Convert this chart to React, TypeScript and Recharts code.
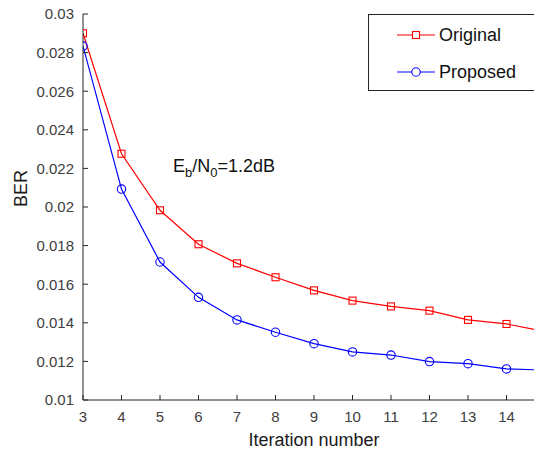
import React from 'react';
import { LineChart, Line, XAxis, YAxis, Legend, ReferenceDot } from 'recharts';

// iteration index on the x axis
const iterations = [3, 4, 5, 6, 7, 8, 9, 10, 11, 12, 13, 14, 15];
// BER
const originalBer = [0.029, 0.02276, 0.01983, 0.01807, 0.01708, 0.01636, 0.01568, 0.01515, 0.01485, 0.01463, 0.01415, 0.01394, 0.01355];
const proposedBer = [0.02834, 0.02093, 0.01715, 0.01532, 0.01415, 0.01351, 0.01292, 0.01249, 0.01233, 0.01199, 0.01188, 0.01161, 0.01155];

const xTicks = [3, 4, 5, 6, 7, 8, 9, 10, 11, 12, 13, 14];
const yTicks = [0.01, 0.012, 0.014, 0.016, 0.018, 0.02, 0.022, 0.024, 0.026, 0.028, 0.03];

const data = iterations.map((x, i) => ({ x, original: originalBer[i], proposed: proposedBer[i] }));

const FONT = '"Liberation Sans", Arial, Helvetica, sans-serif';
const AXIS = '#262626';
const RED = '#ff0000';
const BLUE = '#0000ff';

const SquareDot = (props: any) => {
  const { cx, cy, index } = props;
  if (cx == null || cy == null) return <g key={`sq-${index}`} />;
  return <rect key={`sq-${index}`} x={cx - 3.5} y={cy - 3.5} width={7} height={7} fill="none" stroke={RED} strokeWidth={1.1} />;
};

const CircleDot = (props: any) => {
  const { cx, cy, index } = props;
  if (cx == null || cy == null) return <g key={`ci-${index}`} />;
  return <circle key={`ci-${index}`} cx={cx} cy={cy} r={4.2} fill="none" stroke={BLUE} strokeWidth={1.1} />;
};

const LegendBox = () => {
  const rows = [
    { name: 'Original', color: RED, marker: 'square' },
    { name: 'Proposed', color: BLUE, marker: 'circle' },
  ];
  return (
    <div style={{ width: 180, height: 77, border: `1px solid ${AXIS}`, background: '#fff', boxSizing: 'border-box', fontFamily: FONT }}>
      {rows.map((r, i) => (
        <div key={r.name} style={{ position: 'absolute', left: 28, top: 9 + i * 37, height: 24, display: 'flex', alignItems: 'center' }}>
          <svg width={40} height={24} style={{ display: 'block' }}>
            <line x1={1} y1={12} x2={39} y2={12} stroke={r.color} strokeWidth={1.2} />
            {r.marker === 'square' ? (
              <rect x={16.5} y={8.5} width={7} height={7} fill="#fff" stroke={r.color} strokeWidth={1.1} />
            ) : (
              <circle cx={20} cy={12} r={4.2} fill="#fff" stroke={r.color} strokeWidth={1.1} />
            )}
          </svg>
          <span style={{ marginLeft: 3, fontSize: 18, color: '#111' }}>{r.name}</span>
        </div>
      ))}
    </div>
  );
};

const Annotation = (props: any) => {
  const { cx, cy } = props;
  return (
    <text x={cx} y={cy} fontFamily={FONT} fontSize={18} fill="#111">
      <tspan>E</tspan>
      <tspan dy={5} fontSize={13}>b</tspan>
      <tspan dy={-5}>/N</tspan>
      <tspan dy={5} fontSize={13}>0</tspan>
      <tspan dy={-5}>=1.2dB</tspan>
    </text>
  );
};

export default function App() {
  return (
    <div style={{ position: 'absolute', left: 0, top: 0, width: 534, height: 450, overflow: 'hidden', background: '#fff' }}>
      <LineChart width={545} height={450} data={data} margin={{ top: 14, right: 0, bottom: 0, left: 0 }}>
        <XAxis
          dataKey="x"
          type="number"
          domain={[3, 15]}
          ticks={xTicks}
          allowDataOverflow
          height={50}
          tickSize={-5}
          tickMargin={16}
          stroke={AXIS}
          tick={{ fill: '#404040', fontSize: 15, fontFamily: FONT }}
          label={{ value: 'Iteration number', position: 'insideBottom', offset: 4, fill: '#1a1a1a', fontSize: 18, fontFamily: FONT }}
        />
        <XAxis
          xAxisId="top"
          dataKey="x"
          type="number"
          orientation="top"
          domain={[3, 15]}
          ticks={xTicks}
          height={0}
          tickSize={-5}
          stroke={AXIS}
          tick={() => <g />}
        />
        <YAxis
          type="number"
          domain={[0.01, 0.03]}
          ticks={yTicks}
          width={83}
          tickSize={-5}
          tickMargin={14}
          stroke={AXIS}
          tick={{ fill: '#404040', fontSize: 15, fontFamily: FONT }}
          label={{ value: 'BER', angle: -90, position: 'insideLeft', offset: 21, fill: '#1a1a1a', fontSize: 18, fontFamily: FONT }}
        />
        <Line dataKey="original" name="Original" stroke={RED} strokeWidth={1.2} dot={SquareDot} activeDot={false} isAnimationActive={false} />
        <Line dataKey="proposed" name="Proposed" stroke={BLUE} strokeWidth={1.2} dot={CircleDot} activeDot={false} isAnimationActive={false} />
        <ReferenceDot x={5.34} y={0.0218} r={0} shape={Annotation} />
        <Legend
          layout="vertical"
          align="center"
          verticalAlign="middle"
          wrapperStyle={{ left: 368, top: 14, width: 180, height: 77 }}
          content={() => <LegendBox />}
        />
      </LineChart>
    </div>
  );
}
